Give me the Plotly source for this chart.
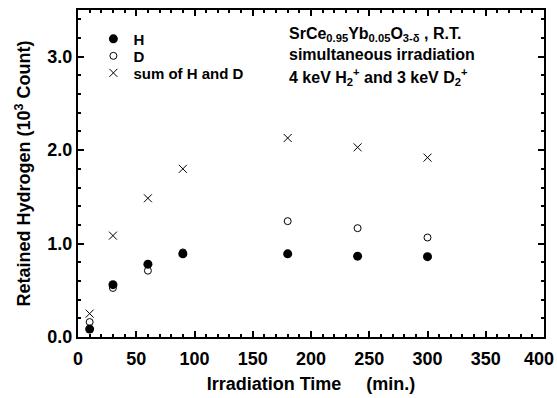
import plotly.graph_objects as go

time_min = [10, 30, 60, 90, 180, 240, 300]
h_vals = [0.085, 0.56, 0.78, 0.89, 0.89, 0.865, 0.86]
d_vals = [0.16, 0.525, 0.71, 0.905, 1.24, 1.165, 1.065]
sum_vals = [0.25, 1.085, 1.485, 1.80, 2.13, 2.03, 1.92]

x_ticks = [0, 50, 100, 150, 200, 250, 300, 350, 400]
x_ticktext = ["<b>0</b>", "<b>50</b>", "<b>100</b>", "<b>150</b>", "<b>200</b>",
              "<b>250</b>", "<b>300</b>", "<b>350</b>", "<b>400</b>&nbsp;&nbsp;"]
y_ticks = [0.0, 1.0, 2.0, 3.0]

font_family = "Liberation Sans, Arial, sans-serif"

fig = go.Figure()
fig.add_trace(go.Scatter(x=time_min, y=h_vals, mode="markers", name="<b>H</b>",
                         legend="legend",
                         marker=dict(symbol="circle", size=9, color="black",
                                     line=dict(width=0))))
fig.add_trace(go.Scatter(x=time_min, y=d_vals, mode="markers", name="<b>D</b>",
                         legend="legend2",
                         marker=dict(symbol="circle-open", size=7, color="black",
                                     line=dict(width=1))))
fig.add_trace(go.Scatter(x=time_min, y=sum_vals, mode="markers", name="<b>sum of H and D</b>",
                         legend="legend3",
                         marker=dict(symbol="x-thin", size=8, color="black",
                                     line=dict(width=1, color="black"))))

axis_common = dict(
    showline=True, linecolor="black", linewidth=2, mirror="ticks",
    ticks="inside", tickcolor="black", tickwidth=2, ticklen=6,
    showgrid=False, zeroline=False, ticklabeloverflow="allow", automargin=False,
    tickfont=dict(family=font_family, size=18, color="black"),
)

fig.update_xaxes(
    range=[0, 400], tickvals=x_ticks, ticktext=x_ticktext,
    ticklabelstandoff=4,
    minor=dict(dtick=10, tick0=0, ticks="inside", ticklen=3, tickwidth=1.5, tickcolor="black"),
    title=dict(text="<b>Irradiation Time &nbsp;&nbsp;&nbsp; (min.)</b>",
               font=dict(family=font_family, size=18, color="black"), standoff=10),
    **axis_common,
)
fig.update_yaxes(
    range=[0, 3.5], tickvals=y_ticks, ticktext=[f"<b>{v:.1f}</b>" for v in y_ticks],
    minor=dict(dtick=0.2, tick0=0, ticks="inside", ticklen=3, tickwidth=1.5, tickcolor="black"),
    title=dict(text="<b>Retained Hydrogen (10<sup>3</sup> Count)</b>",
               font=dict(family=font_family, size=18, color="black"), standoff=12),
    **axis_common,
)

ann_lines = [
    "<b>SrCe<sub>0.95</sub>Yb<sub>0.05</sub>O<sub>3-δ</sub> , R.T.</b>",
    "<b>simultaneous irradiation</b>",
    "<b>4 keV H<sub>2</sub><sup>+</sup> and 3 keV D<sub>2</sub><sup>+</sup></b>",
]
ann_y = [0.924, 0.863, 0.795]
for t, yy in zip(ann_lines, ann_y):
    fig.add_annotation(text=t, xref="paper", yref="paper", x=0.449, y=yy,
                       xanchor="left", yanchor="middle", showarrow=False,
                       font=dict(family=font_family, size=16, color="black"))

leg_common = dict(xanchor="left", yanchor="middle", bgcolor="rgba(0,0,0,0)",
                  font=dict(family=font_family, size=15, color="black"))
fig.update_layout(
    width=557, height=398,
    margin=dict(l=78, r=13, t=10, b=61, autoexpand=False),
    paper_bgcolor="white", plot_bgcolor="white",
    showlegend=True,
    legend=dict(x=0.033, y=0.911, **leg_common),
    legend2=dict(x=0.033, y=0.859, **leg_common),
    legend3=dict(x=0.033, y=0.807, **leg_common),
    font=dict(family=font_family, color="black"),
)

fig.write_html("out.html")
